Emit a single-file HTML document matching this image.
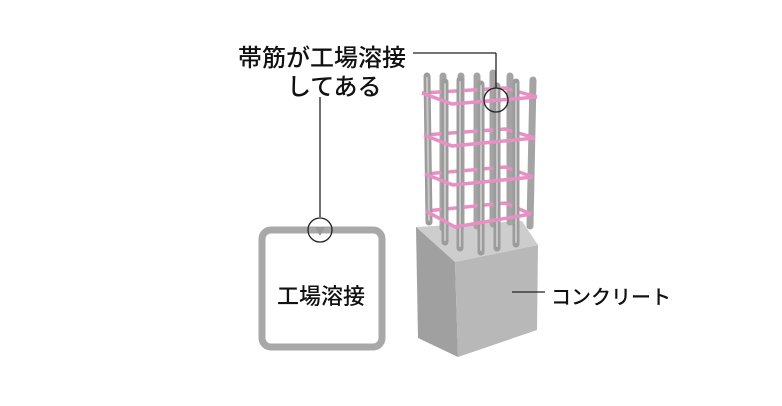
<!DOCTYPE html>
<html><head><meta charset="utf-8"><style>
html,body{margin:0;padding:0;background:#fff;}
body{width:782px;height:406px;overflow:hidden;position:relative;font-family:"Liberation Sans","Noto Sans CJK JP",sans-serif;color:#111;}
.t{position:absolute;white-space:nowrap;font-weight:500;}
</style></head><body>
<svg width="782" height="406" style="position:absolute;left:0;top:0">
<polygon points="416,227 522,221 538,245 455,262" fill="#cdcdcd"/>
<polygon points="416,227 455,262 458,357 418,338" fill="#a0a0a0"/>
<polygon points="455,262 538,245 537,330 458,357" fill="#b8b8b8"/>
<g stroke="#a4a4a4" stroke-width="7" stroke-linecap="round">
<line x1="443" y1="76" x2="443" y2="228"/>
<line x1="461" y1="76" x2="461" y2="226"/>
<line x1="477" y1="76" x2="477" y2="226"/>
<line x1="493" y1="73" x2="493" y2="224"/>
<line x1="510" y1="76" x2="510" y2="222"/>
<line x1="533" y1="80" x2="530" y2="226"/>
</g>
<!-- hoops back edges -->
<g fill="none" stroke="#e98fc4" stroke-width="3.5">
<polyline points="422,93 505,88 537,97"/>
<polyline points="424,135 505,129 535,138"/>
<polyline points="425,174 505,167 533,177"/>
<polyline points="426,211 505,203 531,214"/>
</g>
<g stroke="#9c9c9c" stroke-width="7" stroke-linecap="round">
<line x1="427" y1="76" x2="429" y2="222"/>
<line x1="445" y1="82" x2="445" y2="242"/>
<line x1="460" y1="80" x2="460" y2="248"/>
<line x1="481" y1="84" x2="481" y2="252"/>
<line x1="497" y1="86" x2="497" y2="248"/>
<line x1="516" y1="82" x2="516" y2="244"/>
</g>
<g stroke="#c6c6c6" stroke-width="2" stroke-linecap="round">
<line x1="427" y1="78" x2="429" y2="220"/>
<line x1="445" y1="84" x2="445" y2="240"/>
<line x1="460" y1="82" x2="460" y2="246"/>
<line x1="481" y1="86" x2="481" y2="250"/>
<line x1="497" y1="88" x2="497" y2="246"/>
<line x1="516" y1="84" x2="516" y2="242"/>
</g>
<!-- hoops front edges -->
<g fill="none" stroke="#e98fc4" stroke-width="3.5" stroke-linejoin="round">
<polyline points="537,97 452,104 422,93"/>
<polyline points="535,138 452,146 424,135"/>
<polyline points="533,177 453,185 425,174"/>
<polyline points="531,214 455,227 426,211"/>
</g>
<g fill="none" stroke="#222" stroke-width="1.3">
<line x1="413" y1="53" x2="496" y2="53"/>
<line x1="496" y1="53" x2="496" y2="88"/>
<circle cx="496" cy="100" r="12"/>
<line x1="320" y1="97" x2="320" y2="217"/>
<line x1="512" y1="292" x2="545" y2="292"/>
</g>
<rect x="262" y="230" width="120" height="117" rx="9" fill="#fff" stroke="#a8a8a8" stroke-width="7"/>
<polygon points="315,227 325,227 320,236" fill="#9a9a9a"/>
<circle cx="320" cy="230" r="12" fill="none" stroke="#222" stroke-width="1.3"/>
</svg>
<div class="t" style="left:238px;top:38px;font-size:24px;">帯筋が工場溶接</div>
<div class="t" style="left:287px;top:67px;font-size:24px;">してある</div>
<div class="t" style="left:277px;top:279px;font-size:22px;">工場溶接</div>
<div class="t" style="left:551px;top:281px;font-size:20px;">コンクリート</div>
</body></html>
